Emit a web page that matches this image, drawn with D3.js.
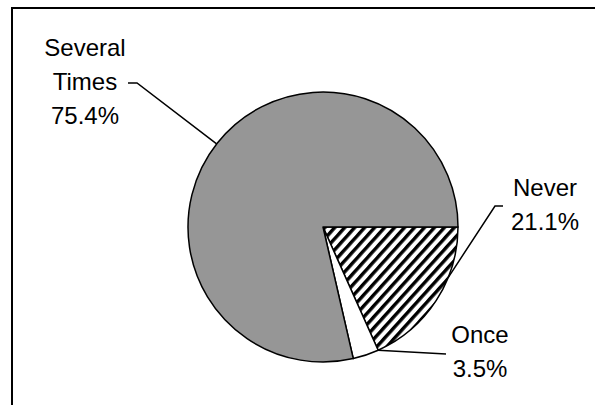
<!DOCTYPE html>
<html>
<head>
<meta charset="utf-8">
<script src="https://cdn.jsdelivr.net/npm/d3@7"></script>
<style>
  body { margin: 0; background: #fff; }
  svg { display: block; }
  text { font-family: "Liberation Sans", Arial, sans-serif; font-size: 24px; fill: #000; }
</style>
</head>
<body>
<script>
// slices in drawing order, clockwise from 3 o'clock
var categories = ["Never", "Once", "Several Times"];
var pctLabels = ["21.1%", "3.5%", "75.4%"];
// slice sizes as drawn in the picture (degrees of arc turned to %)
var sliceValues = [18.3, 3.1, 78.6];
var fills = ["url(#hatch)", "#ffffff", "#969696"];

var width = 595,
    height = 405;

var cx = 323, cy = 227, radius = 135;

var svg = d3.select("body").append("svg")
    .attr("width", width)
    .attr("height", height);

var defs = svg.append("defs");
var hatch = defs.append("pattern")
    .attr("id", "hatch")
    .attr("patternUnits", "userSpaceOnUse")
    .attr("width", 7.4)
    .attr("height", 7.4)
    .attr("patternTransform", "rotate(42)");
hatch.append("rect")
    .attr("width", 7.4).attr("height", 7.4).attr("fill", "#fff");
hatch.append("rect")
    .attr("width", 3.4).attr("height", 7.4).attr("fill", "#000");

// chart frame (runs off the right and bottom edge)
svg.append("rect")
    .attr("x", 12)
    .attr("y", 8)
    .attr("width", 620)
    .attr("height", 430)
    .attr("fill", "none")
    .attr("stroke", "#000")
    .attr("stroke-width", 2);

var pie = d3.pie()
    .sort(null)
    .value(function(d) { return d; })
    .startAngle(Math.PI / 2)
    .endAngle(Math.PI / 2 + 2 * Math.PI);

var arcs = pie(sliceValues);

var arc = d3.arc()
    .innerRadius(0)
    .outerRadius(radius);

var g = svg.append("g")
    .attr("transform", "translate(" + cx + "," + cy + ")");

g.selectAll("path.slice")
    .data(arcs)
    .enter().append("path")
    .attr("class", "slice")
    .attr("d", arc)
    .attr("fill", function(d, i) { return fills[i]; })
    .attr("stroke", "#000")
    .attr("stroke-width", 1.5)
    .attr("stroke-linejoin", "round");

// point on the rim for a given angle (d3 convention: 0 = 12 o'clock)
function rim(a) {
    return [cx + radius * Math.sin(a), cy - radius * Math.cos(a)];
}

var deg = Math.PI / 180;

// label layout: text centre, baselines, leader path (first points, then rim angle)
var labels = [
    { lines: ["Never", pctLabels[0]], x: 545, y: 196, leader: [[503, 206], [495, 206]], rimAngle: 112 * deg },
    { lines: ["Once", pctLabels[1]], x: 480, y: 343, leader: [[446, 354]], rimAngle: arcs[0].endAngle },
    { lines: ["Several", "Times", pctLabels[2]], x: 85, y: 56, leader: [[128, 83], [137, 83]], rimAngle: 308 * deg }
];

var line = d3.line();

svg.selectAll("path.leader")
    .data(labels)
    .enter().append("path")
    .attr("class", "leader")
    .attr("d", function(d) { return line(d.leader.concat([rim(d.rimAngle)])); })
    .attr("fill", "none")
    .attr("stroke", "#000")
    .attr("stroke-width", 1.5);

var lab = svg.selectAll("text.label")
    .data(labels)
    .enter().append("text")
    .attr("class", "label")
    .attr("text-anchor", "middle")
    .attr("x", function(d) { return d.x; })
    .attr("y", function(d) { return d.y; });

lab.selectAll("tspan")
    .data(function(d) { return d.lines.map(function(t) { return { t: t, x: d.x }; }); })
    .enter().append("tspan")
    .attr("x", function(d) { return d.x; })
    .attr("dy", function(d, i) { return i === 0 ? 0 : 34; })
    .text(function(d) { return d.t; });
</script>
</body>
</html>
